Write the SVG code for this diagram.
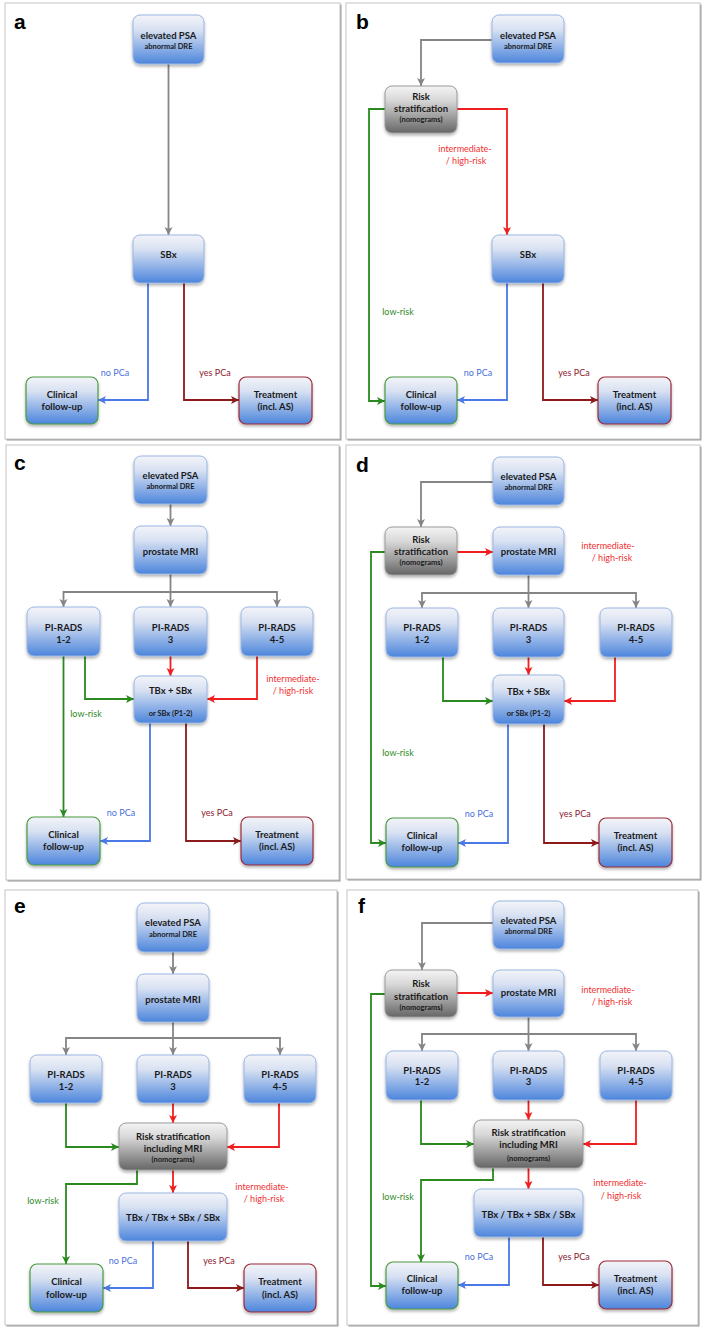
<svg xmlns="http://www.w3.org/2000/svg" width="707" height="1332" viewBox="0 0 707 1332">
<style>
.frame{fill:#fff;stroke:#c4c4c4;stroke-width:1}
.fsh{fill:#9a9a9a}
.nb{fill:url(#gb);stroke:#9ab6e2;stroke-width:1;filter:url(#sh)}
.ng{fill:url(#gg);stroke:#9a9a9a;stroke-width:1;filter:url(#sh)}
.nc{fill:url(#gb);stroke:#4a9a40;stroke-width:1.2;filter:url(#sh)}
.nt{fill:url(#gb);stroke:#9c2b3a;stroke-width:1.2;filter:url(#sh)}
text{font-family:Lato,"Open Sans","Liberation Sans",sans-serif}
.t1{font-size:9.5px;font-weight:700;fill:#1a1a1a;text-anchor:middle}
.t2{font-size:7.5px;font-weight:700;fill:#1a1a1a;text-anchor:middle}
.lb{font-size:9px;text-anchor:middle}
.lr{fill:#f03030}.ld{fill:#8c2030}.lu{fill:#4a70e0}.lg{fill:#2f8a25}
.pl{font-family:"Liberation Sans",Arial,sans-serif;font-size:21px;font-weight:700;fill:#000}
.e{fill:none;stroke-width:1.8}
.eg{stroke:#858585;marker-end:url(#mg)}
.er{stroke:#f01e1e;marker-end:url(#mr)}
.ed{stroke:#8c1a1a;marker-end:url(#md)}
.eu{stroke:#4a78e6;marker-end:url(#mu)}
.en{stroke:#2a8a1f;marker-end:url(#mn)}
</style>
<defs>
<linearGradient id="gb" x1="0" y1="0" x2="0" y2="1">
<stop offset="0" stop-color="#f3f4f8"/><stop offset="0.3" stop-color="#d8e1f2"/><stop offset="1" stop-color="#4c85dc"/>
</linearGradient>
<linearGradient id="gg" x1="0" y1="0" x2="0" y2="1">
<stop offset="0" stop-color="#f4f4f4"/><stop offset="0.3" stop-color="#d8d8d8"/><stop offset="1" stop-color="#666"/>
</linearGradient>
<filter id="sh" x="-10%" y="-10%" width="130%" height="140%">
<feDropShadow dx="0" dy="2" stdDeviation="1.5" flood-color="#000" flood-opacity="0.3"/>
</filter>
<marker id="mg" markerUnits="userSpaceOnUse" markerWidth="9" markerHeight="9" refX="8" refY="4" orient="auto"><path d="M0,0 L8,4 L0,8 L2,4 z" fill="#858585"/></marker>
<marker id="mr" markerUnits="userSpaceOnUse" markerWidth="9" markerHeight="9" refX="8" refY="4" orient="auto"><path d="M0,0 L8,4 L0,8 L2,4 z" fill="#f01e1e"/></marker>
<marker id="md" markerUnits="userSpaceOnUse" markerWidth="9" markerHeight="9" refX="8" refY="4" orient="auto"><path d="M0,0 L8,4 L0,8 L2,4 z" fill="#8c1a1a"/></marker>
<marker id="mu" markerUnits="userSpaceOnUse" markerWidth="9" markerHeight="9" refX="8" refY="4" orient="auto"><path d="M0,0 L8,4 L0,8 L2,4 z" fill="#4a78e6"/></marker>
<marker id="mn" markerUnits="userSpaceOnUse" markerWidth="9" markerHeight="9" refX="8" refY="4" orient="auto"><path d="M0,0 L8,4 L0,8 L2,4 z" fill="#2a8a1f"/></marker>
</defs>
<rect width="707" height="1332" fill="#fff"/>
<g id="frames">
<rect class="fsh" x="6.5" y="4.5" width="335" height="436"/><rect class="frame" x="5" y="3" width="335" height="436"/>
<rect class="fsh" x="347.5" y="4.5" width="354" height="436"/><rect class="frame" x="346" y="3" width="354" height="436"/>
<rect class="fsh" x="7.5" y="446.5" width="333" height="435"/><rect class="frame" x="6" y="445" width="333" height="435"/>
<rect class="fsh" x="347.5" y="446.5" width="354" height="434"/><rect class="frame" x="346" y="445" width="354" height="434"/>
<rect class="fsh" x="6.5" y="891.5" width="332" height="435"/><rect class="frame" x="5" y="890" width="332" height="435"/>
<rect class="fsh" x="348.5" y="891.5" width="351" height="435"/><rect class="frame" x="347" y="890" width="351" height="435"/>
<text class="pl" x="14" y="29">a</text>
<text class="pl" x="356" y="29">b</text>
<text class="pl" x="14" y="470">c</text>
<text class="pl" x="356" y="472">d</text>
<text class="pl" x="14" y="913">e</text>
<text class="pl" x="358" y="913">f</text>
</g>
<g id="connectors">
<!-- a -->
<path class="e eg" d="M168.5 64 V235"/>
<path class="e eu" d="M148 283 V400 H98"/>
<path class="e ed" d="M184 283 V400 H239"/>
<!-- b -->
<path class="e eg" d="M492 40 H421 V86"/>
<path class="e er" d="M457 109 H507 V235"/>
<path class="e en" d="M385 109 H369 V401 H385"/>
<path class="e eu" d="M507 283 V400 H457"/>
<path class="e ed" d="M543 283 V400 H598"/>
<!-- c -->
<path class="e eg" d="M170.5 504 V526"/>
<path class="e eg" d="M170.5 574 V607"/>
<path class="e eg" d="M170.5 592 H63.5 V607"/>
<path class="e eg" d="M170.5 592 H277 V607"/>
<path class="e en" d="M63.5 656 V817"/>
<path class="e en" d="M85 656 V699 H134"/>
<path class="e er" d="M170.5 656 V676"/>
<path class="e er" d="M257 656 V699 H207"/>
<path class="e eu" d="M150 723 V841 H100"/>
<path class="e ed" d="M186 723 V841 H241"/>
<!-- d -->
<path class="e eg" d="M493 482 H421 V527"/>
<path class="e er" d="M457 552 H493"/>
<path class="e eg" d="M528.5 575 V608"/>
<path class="e eg" d="M528.5 593 H422 V608"/>
<path class="e eg" d="M528.5 593 H636 V608"/>
<path class="e en" d="M385 552 H371 V843 H386"/>
<path class="e en" d="M443 657 V701 H493"/>
<path class="e er" d="M528.5 657 V675"/>
<path class="e er" d="M615 657 V701 H564"/>
<path class="e eu" d="M508 724 V843 H458"/>
<path class="e ed" d="M544 724 V843 H599"/>
<!-- e -->
<path class="e eg" d="M173 952 V974"/>
<path class="e eg" d="M173 1022 V1055"/>
<path class="e eg" d="M173 1038 H66 V1055"/>
<path class="e eg" d="M173 1038 H280 V1055"/>
<path class="e en" d="M66 1103 V1147 H119"/>
<path class="e er" d="M173 1103 V1123"/>
<path class="e er" d="M279 1103 V1147 H227"/>
<path class="e en" d="M137 1170 V1184 H66 V1264"/>
<path class="e er" d="M173 1170 V1193"/>
<path class="e eu" d="M153 1241 V1288 H103"/>
<path class="e ed" d="M188 1241 V1288 H244"/>
<!-- f -->
<path class="e eg" d="M493 923 H422 V970"/>
<path class="e er" d="M457 993 H493"/>
<path class="e eg" d="M528.5 1017 V1051"/>
<path class="e eg" d="M528.5 1034 H422 V1051"/>
<path class="e eg" d="M528.5 1034 H636 V1051"/>
<path class="e en" d="M385 994 H371 V1286 H386"/>
<path class="e en" d="M421 1100 V1144 H474"/>
<path class="e er" d="M528.5 1100 V1120"/>
<path class="e er" d="M636 1100 V1144 H583"/>
<path class="e en" d="M493 1168 V1180 H421 V1262"/>
<path class="e er" d="M528.5 1168 V1189"/>
<path class="e eu" d="M509 1237 V1285 H458"/>
<path class="e ed" d="M543 1237 V1285 H599"/>
</g>
<g id="labels">
<text class="lb lu" x="115" y="376">no PCa</text>
<text class="lb ld" x="215" y="376">yes PCa</text>
<text class="lb lr" x="465" y="152">intermediate-</text>
<text class="lb lr" x="466" y="164">/ high-risk</text>
<text class="lb lg" x="398" y="315">low-risk</text>
<text class="lb lu" x="478" y="376">no PCa</text>
<text class="lb ld" x="574" y="376">yes PCa</text>
<text class="lb lr" x="293" y="682">intermediate-</text>
<text class="lb lr" x="293" y="694">/ high-risk</text>
<text class="lb lg" x="86" y="717">low-risk</text>
<text class="lb lu" x="121" y="816">no PCa</text>
<text class="lb ld" x="217" y="816">yes PCa</text>
<text class="lb lr" x="608" y="549">intermediate-</text>
<text class="lb lr" x="612" y="561">/ high-risk</text>
<text class="lb lg" x="398" y="756">low-risk</text>
<text class="lb lu" x="479" y="817">no PCa</text>
<text class="lb ld" x="575" y="817">yes PCa</text>
<text class="lb lr" x="262" y="1190">intermediate-</text>
<text class="lb lr" x="264" y="1202">/ high-risk</text>
<text class="lb lg" x="43" y="1204">low-risk</text>
<text class="lb lu" x="123" y="1264">no PCa</text>
<text class="lb ld" x="219" y="1264">yes PCa</text>
<text class="lb lr" x="608" y="993">intermediate-</text>
<text class="lb lr" x="612" y="1005">/ high-risk</text>
<text class="lb lr" x="620" y="1186">intermediate-</text>
<text class="lb lr" x="621" y="1199">/ high-risk</text>
<text class="lb lg" x="398" y="1200">low-risk</text>
<text class="lb lu" x="479" y="1260">no PCa</text>
<text class="lb ld" x="574" y="1260">yes PCa</text>
</g>
<!-- panel a -->
<g id="a-psa"><rect class="nb" x="133" y="15" width="71" height="49" rx="7"/><text class="t1" x="168.5" y="39">elevated PSA</text><text class="t2" x="168.5" y="49">abnormal DRE</text></g>
<g id="a-sbx"><rect class="nb" x="133" y="235" width="71" height="48" rx="7"/><text class="t1" x="168.5" y="258">SBx</text></g>
<g id="a-cf"><rect class="nc" x="26" y="377" width="72" height="47" rx="7"/><text class="t1" x="62" y="398">Clinical</text><text class="t1" x="62" y="410">follow-up</text></g>
<g id="a-tr"><rect class="nt" x="239" y="377" width="73" height="47" rx="7"/><text class="t1" x="275.5" y="398">Treatment</text><text class="t1" x="275.5" y="410">(incl. AS)</text></g>
<!-- panel b -->
<g id="b-psa"><rect class="nb" x="492" y="15" width="72" height="48" rx="7"/><text class="t1" x="528" y="39">elevated PSA</text><text class="t2" x="528" y="48.5">abnormal DRE</text></g>
<g id="b-risk"><rect class="ng" x="385" y="86" width="72" height="47" rx="7"/><text class="t1" x="421" y="100">Risk</text><text class="t1" x="421" y="112">stratification</text><text class="t2" x="421" y="121.5">(nomograms)</text></g>
<g id="b-sbx"><rect class="nb" x="492" y="235" width="72" height="48" rx="7"/><text class="t1" x="528" y="258">SBx</text></g>
<g id="b-cf"><rect class="nc" x="385" y="377" width="72" height="47" rx="7"/><text class="t1" x="421" y="398">Clinical</text><text class="t1" x="421" y="410">follow-up</text></g>
<g id="b-tr"><rect class="nt" x="598" y="377" width="73" height="47" rx="7"/><text class="t1" x="634.5" y="398">Treatment</text><text class="t1" x="634.5" y="410">(incl. AS)</text></g>
<!-- panel c -->
<g id="c-psa"><rect class="nb" x="134" y="456" width="73" height="48" rx="7"/><text class="t1" x="170.5" y="479">elevated PSA</text><text class="t2" x="170.5" y="489">abnormal DRE</text></g>
<g id="c-mri"><rect class="nb" x="134" y="526" width="73" height="48" rx="7"/><text class="t1" x="170.5" y="555">prostate MRI</text></g>
<g id="c-pr12"><rect class="nb" x="27" y="607" width="73" height="49" rx="7"/><text class="t1" x="63.5" y="631">PI-RADS</text><text class="t1" x="63.5" y="643">1-2</text></g>
<g id="c-pr3"><rect class="nb" x="134" y="607" width="73" height="49" rx="7"/><text class="t1" x="170.5" y="631">PI-RADS</text><text class="t1" x="170.5" y="643">3</text></g>
<g id="c-pr45"><rect class="nb" x="241" y="607" width="72" height="49" rx="7"/><text class="t1" x="277" y="631">PI-RADS</text><text class="t1" x="277" y="643">4-5</text></g>
<g id="c-tb"><rect class="nb" x="134" y="676" width="73" height="47" rx="7"/><text class="t1" x="170.5" y="694">TBx + SBx</text><text class="t2" x="170.5" y="715.5">or SBx (P1-2)</text></g>
<g id="c-cf"><rect class="nc" x="27" y="817" width="73" height="48" rx="7"/><text class="t1" x="63.5" y="838">Clinical</text><text class="t1" x="63.5" y="850">follow-up</text></g>
<g id="c-tr"><rect class="nt" x="241" y="817" width="72" height="48" rx="7"/><text class="t1" x="277" y="838">Treatment</text><text class="t1" x="277" y="850">(incl. AS)</text></g>
<!-- panel d -->
<g id="d-psa"><rect class="nb" x="493" y="457" width="71" height="48" rx="7"/><text class="t1" x="528.5" y="480">elevated PSA</text><text class="t2" x="528.5" y="490">abnormal DRE</text></g>
<g id="d-risk"><rect class="ng" x="385" y="527" width="72" height="48" rx="7"/><text class="t1" x="421" y="543">Risk</text><text class="t1" x="421" y="555">stratification</text><text class="t2" x="421" y="564.5">(nomograms)</text></g>
<g id="d-mri"><rect class="nb" x="493" y="527" width="71" height="48" rx="7"/><text class="t1" x="528.5" y="555">prostate MRI</text></g>
<g id="d-pr12"><rect class="nb" x="386" y="608" width="72" height="49" rx="7"/><text class="t1" x="422" y="631">PI-RADS</text><text class="t1" x="422" y="643">1-2</text></g>
<g id="d-pr3"><rect class="nb" x="493" y="608" width="71" height="49" rx="7"/><text class="t1" x="528.5" y="631">PI-RADS</text><text class="t1" x="528.5" y="643">3</text></g>
<g id="d-pr45"><rect class="nb" x="600" y="608" width="72" height="49" rx="7"/><text class="t1" x="636" y="631">PI-RADS</text><text class="t1" x="636" y="643">4-5</text></g>
<g id="d-tb"><rect class="nb" x="493" y="675" width="71" height="49" rx="7"/><text class="t1" x="528.5" y="695">TBx + SBx</text><text class="t2" x="528.5" y="716">or SBx (P1-2)</text></g>
<g id="d-cf"><rect class="nc" x="386" y="818" width="72" height="49" rx="7"/><text class="t1" x="422" y="839">Clinical</text><text class="t1" x="422" y="851">follow-up</text></g>
<g id="d-tr"><rect class="nt" x="599" y="818" width="73" height="49" rx="7"/><text class="t1" x="635.5" y="839">Treatment</text><text class="t1" x="635.5" y="851">(incl. AS)</text></g>
<!-- panel e -->
<g id="e-psa"><rect class="nb" x="137" y="903" width="72" height="49" rx="7"/><text class="t1" x="173" y="926">elevated PSA</text><text class="t2" x="173" y="936.5">abnormal DRE</text></g>
<g id="e-mri"><rect class="nb" x="137" y="974" width="72" height="48" rx="7"/><text class="t1" x="173" y="1003">prostate MRI</text></g>
<g id="e-pr12"><rect class="nb" x="30" y="1055" width="72" height="48" rx="7"/><text class="t1" x="66" y="1078">PI-RADS</text><text class="t1" x="66" y="1090">1-2</text></g>
<g id="e-pr3"><rect class="nb" x="137" y="1055" width="72" height="48" rx="7"/><text class="t1" x="173" y="1078">PI-RADS</text><text class="t1" x="173" y="1090">3</text></g>
<g id="e-pr45"><rect class="nb" x="244" y="1055" width="72" height="48" rx="7"/><text class="t1" x="280" y="1078">PI-RADS</text><text class="t1" x="280" y="1090">4-5</text></g>
<g id="e-risk"><rect class="ng" x="119" y="1123" width="108" height="47" rx="7"/><text class="t1" x="173" y="1140">Risk stratification</text><text class="t1" x="173" y="1152">including MRI</text><text class="t2" x="173" y="1161.5">(nomograms)</text></g>
<g id="e-tb"><rect class="nb" x="119" y="1193" width="108" height="48" rx="7"/><text class="t1" x="173" y="1221">TBx / TBx + SBx / SBx</text></g>
<g id="e-cf"><rect class="nc" x="30" y="1264" width="73" height="48" rx="7"/><text class="t1" x="66.5" y="1285">Clinical</text><text class="t1" x="66.5" y="1298">follow-up</text></g>
<g id="e-tr"><rect class="nt" x="244" y="1264" width="72" height="48" rx="7"/><text class="t1" x="280" y="1285">Treatment</text><text class="t1" x="280" y="1298">(incl. AS)</text></g>
<!-- panel f -->
<g id="f-psa"><rect class="nb" x="493" y="901" width="71" height="48" rx="7"/><text class="t1" x="528.5" y="924">elevated PSA</text><text class="t2" x="528.5" y="934">abnormal DRE</text></g>
<g id="f-risk"><rect class="ng" x="385" y="970" width="72" height="47" rx="7"/><text class="t1" x="421" y="987">Risk</text><text class="t1" x="421" y="1000">stratification</text><text class="t2" x="421" y="1009.5">(nomograms)</text></g>
<g id="f-mri"><rect class="nb" x="493" y="970" width="71" height="47" rx="7"/><text class="t1" x="528.5" y="996">prostate MRI</text></g>
<g id="f-pr12"><rect class="nb" x="386" y="1051" width="72" height="49" rx="7"/><text class="t1" x="422" y="1074">PI-RADS</text><text class="t1" x="422" y="1085">1-2</text></g>
<g id="f-pr3"><rect class="nb" x="493" y="1051" width="71" height="49" rx="7"/><text class="t1" x="528.5" y="1074">PI-RADS</text><text class="t1" x="528.5" y="1085">3</text></g>
<g id="f-pr45"><rect class="nb" x="600" y="1051" width="72" height="49" rx="7"/><text class="t1" x="636" y="1074">PI-RADS</text><text class="t1" x="636" y="1085">4-5</text></g>
<g id="f-risk2"><rect class="ng" x="474" y="1120" width="109" height="48" rx="7"/><text class="t1" x="528.5" y="1136">Risk stratification</text><text class="t1" x="528.5" y="1148">including MRI</text><text class="t2" x="528.5" y="1161">(nomograms)</text></g>
<g id="f-tb"><rect class="nb" x="474" y="1189" width="109" height="48" rx="7"/><text class="t1" x="528.5" y="1218">TBx / TBx + SBx / SBx</text></g>
<g id="f-cf"><rect class="nc" x="386" y="1262" width="72" height="47" rx="7"/><text class="t1" x="422" y="1282">Clinical</text><text class="t1" x="422" y="1294">follow-up</text></g>
<g id="f-tr"><rect class="nt" x="599" y="1261" width="73" height="48" rx="7"/><text class="t1" x="635.5" y="1282">Treatment</text><text class="t1" x="635.5" y="1294">(incl. AS)</text></g>
</svg>
